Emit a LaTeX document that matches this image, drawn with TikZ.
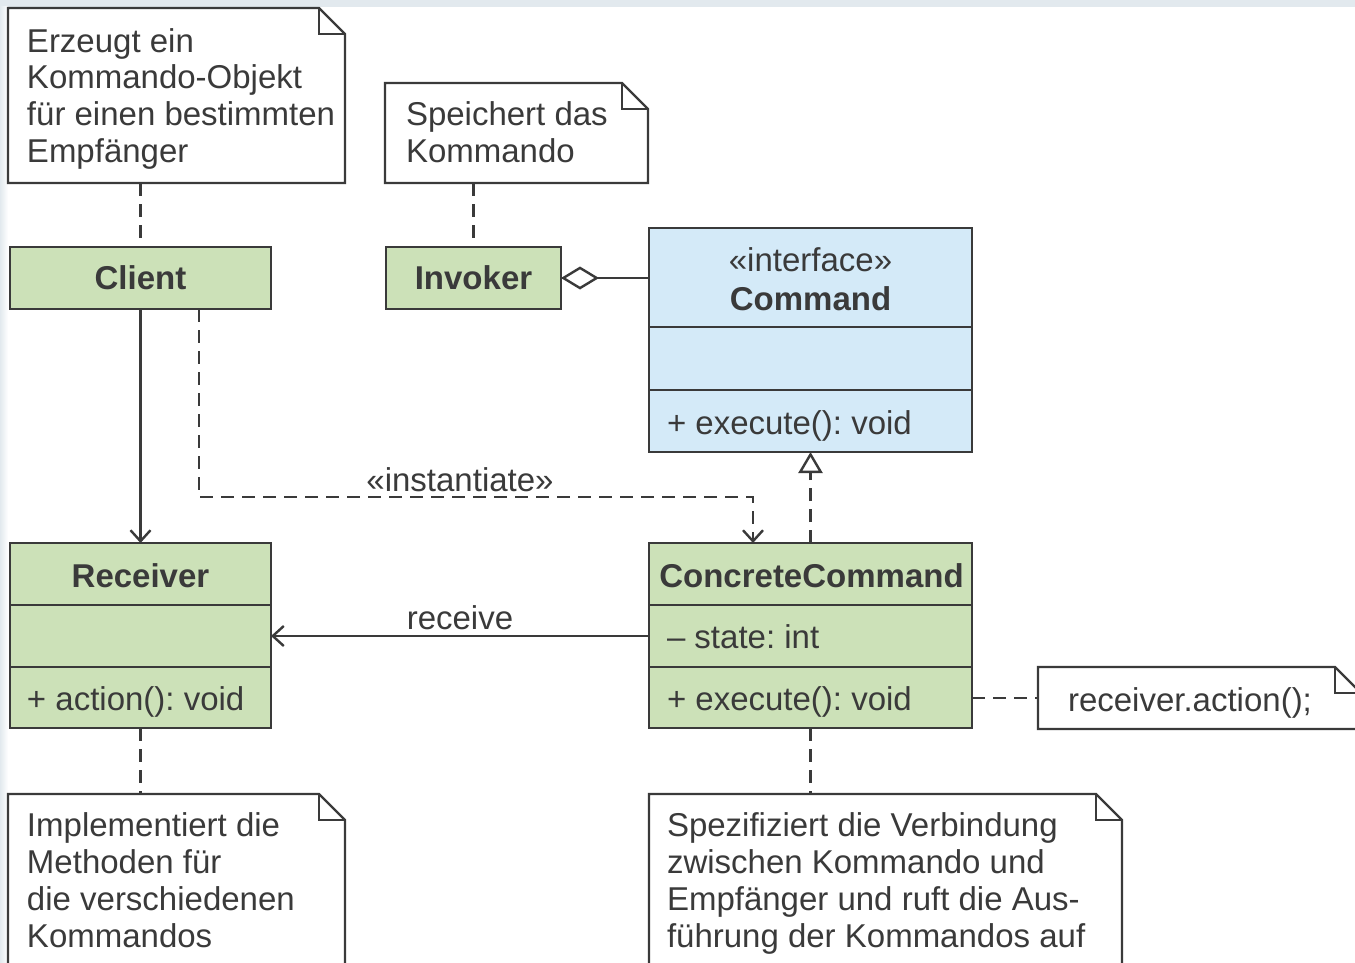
\documentclass[tikz,border=0pt]{standalone}
\usepackage{fontspec}
\setmainfont{Liberation Sans}
\frenchspacing
\usetikzlibrary{calc,arrows.meta}
\definecolor{ink}{HTML}{3A3A3A}
\definecolor{clsgreen}{HTML}{CCE1B8}
\definecolor{ifblue}{HTML}{D4EAF8}
\definecolor{rim}{HTML}{E2E9EE}
\tikzset{
  every node/.style={inner sep=0pt, outer sep=0pt, text=ink},
  regular/.style={font=\fontsize{33}{37}\selectfont},
  heading/.style={font=\fontsize{33}{37}\selectfont\bfseries},
  frame/.style={draw=ink, line width=2.4pt, line join=miter},
  classbox/.style={frame, fill=clsgreen},
  ifacebox/.style={frame, fill=ifblue},
  notearea/.style={inner sep=0pt},
  notetext/.style={regular, align=left, anchor=north west},
  conn/.style={draw=ink, line width=2.4pt},
  dashconn/.style={conn, dash pattern=on 13pt off 8pt},
  openarrow/.style={-{Straight Barb[length=11pt,width=20pt]}},
}
\begin{document}
\begin{tikzpicture}[x=1pt,y=-1pt]
\useasboundingbox (0,0) rectangle (1355,963);
\fill[white] (0,0) rectangle (1355,963);
\fill[rim] (0,0) rectangle (1355,7);
\shade[left color=rim, right color=white] (0,7) rectangle (8,963);
\clip (0,0) rectangle (1355,963);

% ---- note areas (outlines are drawn below) ----
\node[notearea, minimum width=337pt, minimum height=175pt] (n1) at (176.5,95.5) {};
\node[notearea, minimum width=263pt, minimum height=100pt] (n2) at (516.5,133) {};
\node[notearea, minimum width=337pt, minimum height=196pt] (n3) at (176.5,892) {};
\node[notearea, minimum width=473pt, minimum height=196pt] (n4) at (885.5,892) {};
\node[notearea, minimum width=323pt, minimum height=62pt] (n5) at (1199.5,698) {};

\foreach \n in {n1,n2,n3,n4,n5}{
  \draw[frame] (\n.north west) -- ($(\n.north east)+(-26,0)$)
    -- ($(\n.north east)+(0,26)$) -- (\n.south east) -- (\n.south west) -- cycle;
  \draw[frame] ($(\n.north east)+(-26,0)$) -- ++(0,26) -- ++(26,0);
}

\node[notetext] (n1-text) at (27,26.1)
  {\strut Erzeugt ein\\Kommando-Objekt\\für einen bestimmten\\Empfänger};
\node[notetext] (n2-text) at (406,100.1)
  {\strut Speichert das\\Kommando};
\node[notetext] (n3-text) at (27,810.1)
  {\strut Implementiert die\\Methoden für\\die verschiedenen\\Kommandos};
\node[notetext] (n4-text) at (667,810.1)
  {\strut Spezifiziert die Verbindung\\zwischen Kommando und\\Empfänger und ruft die Aus-\\führung der Kommandos auf};
\node[regular, anchor=base west] (n5-text) at (1068,711) {receiver.action();};

% ---- classes ----
\node[classbox, heading, minimum width=261pt, minimum height=62pt] (client) at (140.5,278) {Client};
\node[classbox, heading, minimum width=175pt, minimum height=62pt] (invoker) at (473.5,278) {Invoker};

\node[ifacebox, minimum width=323pt, minimum height=224pt] (command) at (810.5,340) {};
\draw[frame] ($(command.north west)+(0,99)$) -- ($(command.north east)+(0,99)$);
\draw[frame] ($(command.north west)+(0,162)$) -- ($(command.north east)+(0,162)$);
\node[regular, anchor=base] (command-stereo) at (810.5,271) {«interface»};
\node[heading, anchor=base] (command-name) at (810.5,310) {Command};
\node[regular, anchor=base west] (command-op) at (667,434) {+ execute(): void};

\node[classbox, minimum width=261pt, minimum height=185pt] (receiver) at (140.5,635.5) {};
\draw[frame] ($(receiver.north west)+(0,62)$) -- ($(receiver.north east)+(0,62)$);
\draw[frame] ($(receiver.north west)+(0,124)$) -- ($(receiver.north east)+(0,124)$);
\node[heading, anchor=base] (receiver-name) at (140.5,587) {Receiver};
\node[regular, anchor=base west] (receiver-op) at (27,710) {+ action(): void};

\node[classbox, minimum width=323pt, minimum height=185pt] (concrete) at (810.5,635.5) {};
\draw[frame] ($(concrete.north west)+(0,62)$) -- ($(concrete.north east)+(0,62)$);
\draw[frame] ($(concrete.north west)+(0,124)$) -- ($(concrete.north east)+(0,124)$);
\node[heading, anchor=base] (concrete-name) at (811.5,587) {ConcreteCommand};
\node[regular, anchor=base west] (concrete-attr) at (667,648) {– state: int};
\node[regular, anchor=base west] (concrete-op) at (667,710) {+ execute(): void};

% ---- note anchors ----
\draw[dashconn] (client.north |- n1.south) -- (client.north);
\draw[dashconn] (invoker.north |- n2.south) -- (invoker.north);
\draw[dashconn] (receiver.south) -- (receiver.south |- n3.north);
\draw[dashconn] (concrete.south) -- (concrete.south |- n4.north);
\draw[dashconn] (n5.west -| concrete.east) -- (n5.west);

% ---- relations ----
\draw[conn, {Diamond[open, length=38pt, width=23pt]}-] (invoker.east) -- (invoker.east -| command.west);
\draw[conn, openarrow] (client.south) -- (receiver.north);
\coordinate (inst-start) at ($(client.south east)+(-72,0)$);
\coordinate (inst-bend) at (753,497);
\draw[dashconn, openarrow] (inst-start) |- (inst-bend) -- (inst-bend |- concrete.north);
\node[regular, anchor=base] (inst-label) at (460,491) {«instantiate»};
\draw[dashconn, -{Triangle[open, length=21pt, width=24pt]}] (concrete.north) -- (command.south);
\coordinate (rcv-row) at (0,636);
\draw[conn, openarrow] (concrete.west |- rcv-row) -- (receiver.east |- rcv-row);
\node[regular, anchor=base] (rcv-label) at (460,629) {receive};
\end{tikzpicture}
\end{document}
